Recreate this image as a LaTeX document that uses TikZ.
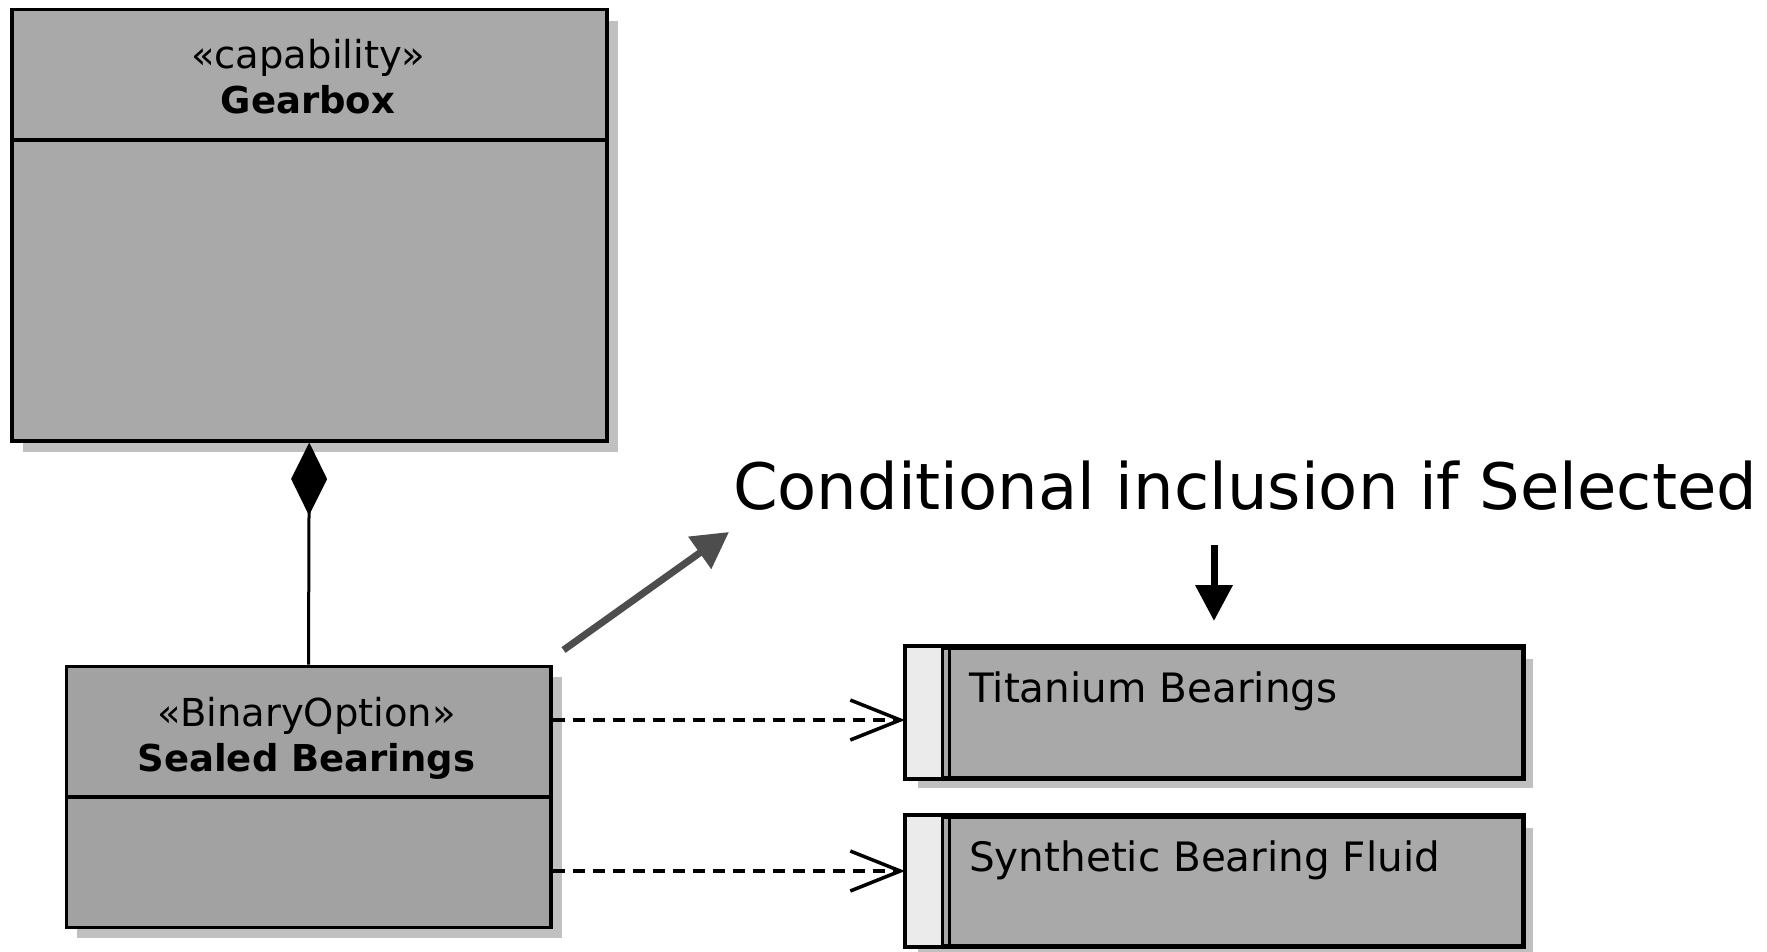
\documentclass[tikz,border=0pt]{standalone}
\usepackage{fontspec}
\setmainfont{DejaVu Sans}
\usetikzlibrary{arrows.meta,shadows}
\definecolor{boxgray}{HTML}{A9A9A9}
\definecolor{boxgrayb}{HTML}{A2A2A2}
\definecolor{shadowgray}{HTML}{C0C0C0}
\definecolor{stripgray}{HTML}{EBEBEB}
\definecolor{arrowgray}{HTML}{4D4D4D}
\tikzset{
  umlbox/.style={draw=black, line width=3.5pt, fill=boxgray, anchor=north west, inner sep=0pt,
    drop shadow={shadow xshift=11pt, shadow yshift=-11pt, opacity=1, fill=shadowgray}},
  sterlabel/.style={font=\fontsize{38.5}{44}\selectfont, inner sep=0pt},
  namelabel/.style={font=\fontsize{37}{42}\selectfont\bfseries, inner sep=0pt},
  partlabel/.style={font=\fontsize{40.5}{46}\selectfont, inner sep=0pt, anchor=base west},
  deparrow/.style={line width=3.5pt, dash pattern=on 12pt off 8pt, -{Straight Barb[length=50pt,width=40pt,line width=3.5pt]}},
}
\begin{document}
\begin{tikzpicture}[x=1pt,y=-1pt]
\useasboundingbox (0,0) rectangle (1767,952);
% Gearbox
\node[umlbox, minimum width=595pt, minimum height=431pt] (gear) at (10,8) {};
\draw[line width=3.5pt] (gear.west |- 0,140) -- (gear.east |- 0,140);
\node[sterlabel] (gearst) at (308,57.5) {«capability»};
\node[namelabel] (gearname) at (308,99.5) {Gearbox};
% Sealed Bearings
\node[umlbox, fill=boxgrayb, minimum width=484.5pt, minimum height=261pt] (seal) at (64.5,664.5) {};
\draw[line width=3.5pt] (seal.west |- 0,797) -- (seal.east |- 0,797);
\node[sterlabel] (sealst) at (306.5,715.5) {«BinaryOption»};
\node[namelabel] (sealname) at (306.5,761.5) {Sealed Bearings};
% composition
\draw[line width=3pt, -{Diamond[length=73pt,width=36pt]}] (seal.north) -- (gear.south);
% Titanium
\node[umlbox, minimum width=615.5pt, minimum height=129.5pt] (tit) at (905,646) {};
\fill[stripgray] (tit.north west) rectangle ([xshift=37pt]tit.south west);
\draw[line width=3pt] ([xshift=37pt]tit.north west) -- ([xshift=37pt]tit.south west);
\draw[line width=3pt] ([xshift=44pt]tit.north west) -- ([xshift=44pt]tit.south west);
\draw[line width=3.5pt] (tit.north west) rectangle (tit.south east);
\node[partlabel] (titlab) at (969,702) {Titanium Bearings};
% Synthetic
\node[umlbox, minimum width=615.5pt, minimum height=128.5pt] (syn) at (905,815) {};
\fill[stripgray] (syn.north west) rectangle ([xshift=37pt]syn.south west);
\draw[line width=3pt] ([xshift=37pt]syn.north west) -- ([xshift=37pt]syn.south west);
\draw[line width=3pt] ([xshift=44pt]syn.north west) -- ([xshift=44pt]syn.south west);
\draw[line width=3.5pt] (syn.north west) rectangle (syn.south east);
\node[partlabel] (synlab) at (969,871) {Synthetic Bearing Fluid};
% dependencies
\draw[deparrow] (seal.east |- 0,720) -- (tit.west |- 0,720);
\draw[deparrow] (seal.east |- 0,871) -- (syn.west |- 0,871);
% annotation
\node[font=\fontsize{64}{74}\selectfont, inner sep=0pt] (cond) at (1245,486) {Conditional inclusion if Selected};
\coordinate (gstart) at (563.5,650);
\coordinate (gend) at (729,532);
\draw[arrowgray, line width=7pt, -{Triangle[length=36pt,width=38pt]}] (gstart) -- (gend);
\coordinate (bstart) at (1214,545);
\coordinate (bend) at (1214,621);
\draw[black, line width=7pt, -{Triangle[length=36pt,width=36pt]}] (bstart) -- (bend);
\end{tikzpicture}
\end{document}
